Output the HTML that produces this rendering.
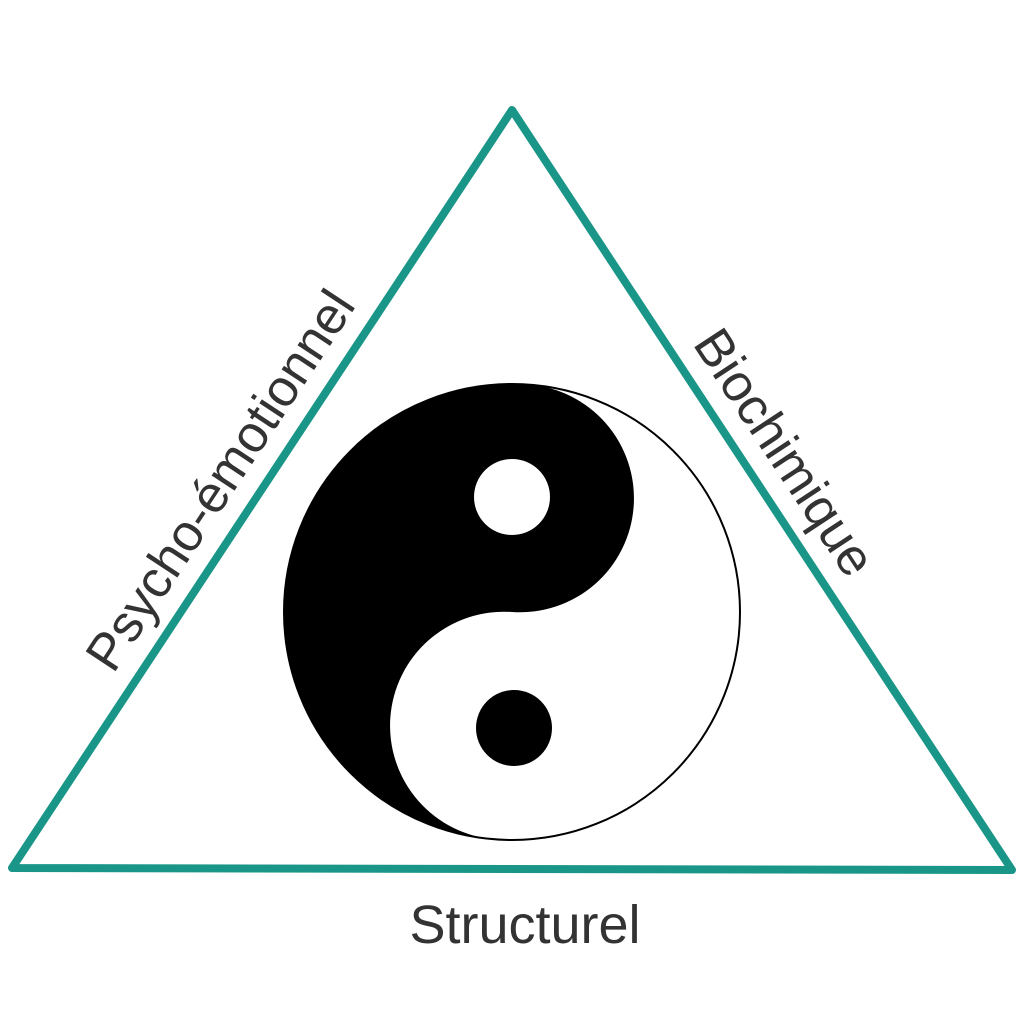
<!DOCTYPE html>
<html><head><meta charset="utf-8"><style>
html,body{margin:0;padding:0;background:#fff;}
svg{display:block;}
text{font-family:"Liberation Sans",sans-serif;fill:#333;}
</style></head><body>
<svg width="1024" height="1024" viewBox="0 0 1024 1024" xmlns="http://www.w3.org/2000/svg">
<polygon points="512,110 12,868 1012,870" fill="none" stroke="#1a9688" stroke-width="8" stroke-linejoin="round"/>
<circle cx="512" cy="612" r="228" fill="#fff" stroke="#000" stroke-width="2"/>
<g transform="rotate(4 512 612)">
<path d="M512,384 A228,228 0 0 0 512,840 A114,114 0 0 1 512,612 A114,114 0 0 0 512,384 Z" fill="#000"/>
</g>
<circle cx="512" cy="497" r="38" fill="#fff"/>
<circle cx="514" cy="728" r="38" fill="#000"/>
<text x="0" y="0" font-size="52" text-anchor="middle" transform="translate(235,490) rotate(-56.6)">Psycho-émotionnel</text>
<text x="0" y="0" font-size="52" text-anchor="middle" transform="translate(770,462) rotate(56.6)">Biochimique</text>
<text x="525" y="943" font-size="54" text-anchor="middle">Structurel</text>
</svg>
</body></html>
